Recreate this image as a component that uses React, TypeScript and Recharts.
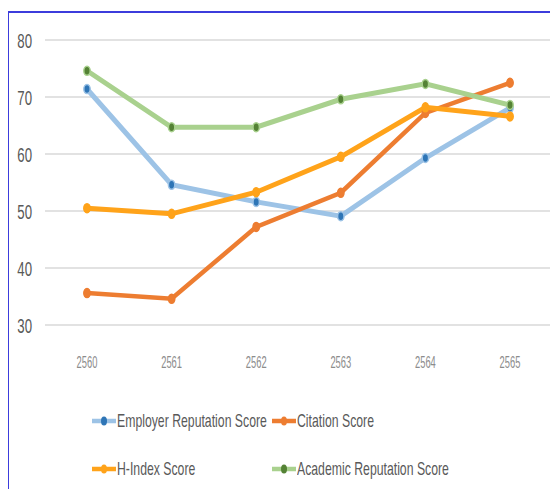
import { LineChart, Line, XAxis, YAxis, CartesianGrid } from 'recharts';

const years = ['2560', '2561', '2562', '2563', '2564', '2565'];
const employerScore = [71.4, 54.6, 51.6, 49.1, 59.3, 68.1];
const citationScore = [35.6, 34.6, 47.2, 53.2, 67.2, 72.5];
const hIndexScore = [50.5, 49.5, 53.3, 59.5, 68.2, 66.6];
const academicScore = [74.6, 64.7, 64.7, 69.6, 72.3, 68.6];
const yTicks = [30, 40, 50, 60, 70, 80];

const series = [
    { key: 'employer', name: 'Employer Reputation Score', line: '#9dc3e6', dot: '#2e75b6', width: 5 },
    { key: 'citation', name: 'Citation Score', line: '#ed7d31', dot: '#ed7d31', width: 4.5 },
    { key: 'hindex', name: 'H-Index Score', line: '#ffa31a', dot: '#ffa31a', width: 5 },
    { key: 'academic', name: 'Academic Reputation Score', line: '#a9d18e', dot: '#548235', width: 5 },
];

const data = years.map((year, i) => ({
    year,
    employer: employerScore[i],
    citation: citationScore[i],
    hindex: hIndexScore[i],
    academic: academicScore[i],
}));

const FONT = '"Liberation Sans", Arial, sans-serif';

function makeDot(fill: string, halo: string) {
    return (props: any) => {
        const { cx, cy, index } = props;
        if (cx == null || cy == null) return <g key={index} />;
        return <ellipse key={index} cx={cx} cy={cy} rx={3.2} ry={4.5} fill={fill} stroke={halo} strokeWidth={1.5} />;
    };
}

// squeezed tick labels, the source renders them narrow
function XTick(props: any) {
    const { x, y, payload } = props;
    return (
        <text
            transform={`translate(${x},${y}) scale(0.55,1)`}
            textAnchor="middle"
            dy={37}
            fontFamily={FONT}
            fontSize={17}
            fill="#8c8c8c"
        >
            {payload.value}
        </text>
    );
}

function YTick(props: any) {
    const { x, y, payload } = props;
    return (
        <text
            transform={`translate(${x},${y}) scale(0.63,1)`}
            textAnchor="end"
            dy="0.36em"
            fontFamily={FONT}
            fontSize={21}
            fill="#595959"
        >
            {payload.value}
        </text>
    );
}

function LegendItem({ name, line, dot }: { name: string; line: string; dot: string }) {
    return (
        <div style={{ display: 'flex', alignItems: 'center', height: 24 }}>
            <svg width={24} height={12} style={{ marginRight: 1, flex: 'none' }}>
                <line x1={0} y1={6} x2={24} y2={6} stroke={line} strokeWidth={4.5} strokeLinecap="round" />
                <ellipse cx={12} cy={6} rx={3} ry={4.5} fill={dot} />
            </svg>
            <span
                style={{
                    display: 'inline-block',
                    fontFamily: FONT,
                    fontSize: 19,
                    color: '#595959',
                    whiteSpace: 'nowrap',
                    transform: 'scaleX(0.645)',
                    transformOrigin: 'left center',
                }}
            >
                {name}
            </span>
        </div>
    );
}

export default function App() {
    return (
        <div style={{ position: 'relative', width: 558, height: 497, margin: -8, background: '#fff', overflow: 'hidden' }}>
            <div style={{ position: 'absolute', left: 0, top: 0 }}>
                <LineChart width={558} height={497} data={data} margin={{ top: 40, right: 6, bottom: 112, left: 0 }}>
                    <CartesianGrid vertical={false} stroke="#d9d9d9" strokeWidth={1.5} />
                    <XAxis
                        dataKey="year"
                        axisLine={false}
                        tickLine={false}
                        height={60}
                        tickMargin={0}
                        padding={{ left: 42, right: 42 }}
                        tick={<XTick />}
                    />
                    <YAxis
                        domain={[30, 80]}
                        ticks={yTicks}
                        axisLine={false}
                        tickLine={false}
                        width={45}
                        tickMargin={7}
                        tick={<YTick />}
                    />
                    {series.map((s) => (
                        <Line
                            key={s.key}
                            type="linear"
                            dataKey={s.key}
                            name={s.name}
                            stroke={s.line}
                            strokeWidth={s.width}
                            dot={makeDot(s.dot, s.line)}
                            activeDot={false}
                            isAnimationActive={false}
                        />
                    ))}
                </LineChart>
            </div>
            <div style={{ position: 'absolute', left: 92, top: 409 }}>
                <LegendItem {...series[0]} />
            </div>
            <div style={{ position: 'absolute', left: 272, top: 409 }}>
                <LegendItem {...series[1]} />
            </div>
            <div style={{ position: 'absolute', left: 92, top: 457 }}>
                <LegendItem {...series[2]} />
            </div>
            <div style={{ position: 'absolute', left: 272, top: 457 }}>
                <LegendItem {...series[3]} />
            </div>
            <div style={{ position: 'absolute', zIndex: 5, left: 7, top: 11, width: 2, height: 486, background: '#3c3cdc' }} />
            <div style={{ position: 'absolute', zIndex: 5, left: 7, top: 11, width: 551, height: 2, background: '#3c3cdc' }} />
        </div>
    );
}
